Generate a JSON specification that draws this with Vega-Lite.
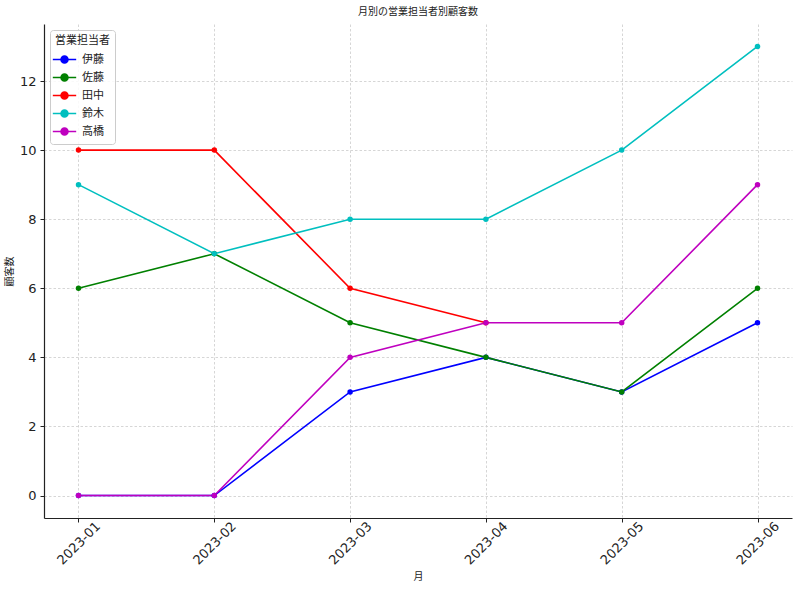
{
  "$schema": "https://vega.github.io/schema/vega-lite/v6.json",
  "autosize": "none",
  "width": 748,
  "height": 494,
  "padding": {"left": 44, "top": 24, "right": 8, "bottom": 78},
  "background": "white",
  "config": {
    "font": "DejaVu Sans, Noto Sans CJK JP",
    "view": {"stroke": null}
  },
  "title": {"text": "月別の営業担当者別顧客数", "fontSize": 10, "fontWeight": "normal", "color": "#222", "offset": 7, "font": "Noto Sans CJK JP"},
  "data": {
    "values": [
      {"月": "2023-01", "担当": "伊藤", "顧客数": 0},
      {"月": "2023-02", "担当": "伊藤", "顧客数": 0},
      {"月": "2023-03", "担当": "伊藤", "顧客数": 3},
      {"月": "2023-04", "担当": "伊藤", "顧客数": 4},
      {"月": "2023-05", "担当": "伊藤", "顧客数": 3},
      {"月": "2023-06", "担当": "伊藤", "顧客数": 5},
      {"月": "2023-01", "担当": "佐藤", "顧客数": 6},
      {"月": "2023-02", "担当": "佐藤", "顧客数": 7},
      {"月": "2023-03", "担当": "佐藤", "顧客数": 5},
      {"月": "2023-04", "担当": "佐藤", "顧客数": 4},
      {"月": "2023-05", "担当": "佐藤", "顧客数": 3},
      {"月": "2023-06", "担当": "佐藤", "顧客数": 6},
      {"月": "2023-01", "担当": "田中", "顧客数": 10},
      {"月": "2023-02", "担当": "田中", "顧客数": 10},
      {"月": "2023-03", "担当": "田中", "顧客数": 6},
      {"月": "2023-04", "担当": "田中", "顧客数": 5},
      {"月": "2023-01", "担当": "鈴木", "顧客数": 9},
      {"月": "2023-02", "担当": "鈴木", "顧客数": 7},
      {"月": "2023-03", "担当": "鈴木", "顧客数": 8},
      {"月": "2023-04", "担当": "鈴木", "顧客数": 8},
      {"月": "2023-05", "担当": "鈴木", "顧客数": 10},
      {"月": "2023-06", "担当": "鈴木", "顧客数": 13},
      {"月": "2023-01", "担当": "高橋", "顧客数": 0},
      {"月": "2023-02", "担当": "高橋", "顧客数": 0},
      {"月": "2023-03", "担当": "高橋", "顧客数": 4},
      {"月": "2023-04", "担当": "高橋", "顧客数": 5},
      {"月": "2023-05", "担当": "高橋", "顧客数": 5},
      {"月": "2023-06", "担当": "高橋", "顧客数": 9}
    ]
  },
  "mark": {"type": "line", "strokeWidth": 1.6, "point": {"size": 30, "filled": true}},
  "encoding": {
    "x": {
      "field": "月", "type": "ordinal",
      "scale": {"type": "point", "padding": 0.254},
      "axis": {
        "title": "月", "titleFontSize": 10, "titleFontWeight": "normal", "titleColor": "#222", "titlePadding": 4, "titleFont": "Noto Sans CJK JP",
        "labelAngle": -45, "labelAlign": "center", "labelBaseline": "middle", "labelFontSize": 13, "labelColor": "#222", "labelPadding": 21,
        "grid": true, "gridColor": "#cccccc", "gridDash": [2.5, 2], "gridWidth": 0.8,
        "domainColor": "#222", "domainWidth": 1.2, "tickColor": "#222", "tickSize": 4
      }
    },
    "y": {
      "field": "顧客数", "type": "quantitative",
      "scale": {"domain": [-0.65, 13.65], "nice": false, "zero": false},
      "axis": {
        "values": [0, 2, 4, 6, 8, 10, 12],
        "title": "顧客数", "titleFontSize": 10, "titleFontWeight": "normal", "titleColor": "#222", "titlePadding": 5, "titleFont": "Noto Sans CJK JP",
        "labelFontSize": 13, "labelColor": "#222", "labelPadding": 4,
        "grid": true, "gridColor": "#cccccc", "gridDash": [2.5, 2], "gridWidth": 0.8,
        "domainColor": "#222", "domainWidth": 1.2, "tickColor": "#222", "tickSize": 4
      }
    },
    "color": {
      "field": "担当", "type": "nominal",
      "scale": {"domain": ["伊藤", "佐藤", "田中", "鈴木", "高橋"], "range": ["#0000ff", "#008000", "#ff0000", "#00bfbf", "#bf00bf"]},
      "legend": {
        "title": "営業担当者", "titleFontSize": 11, "titleFontWeight": "normal", "titleColor": "#222", "titleFont": "Noto Sans CJK JP", "titlePadding": 4,
        "labelFontSize": 11, "labelColor": "#222", "labelFont": "Noto Sans CJK JP", "labelOffset": 8,
        "orient": "top-left", "offset": 6, "padding": 5,
        "fillColor": "rgba(255,255,255,0.85)", "strokeColor": "#cccccc", "cornerRadius": 3,
        "rowPadding": 1,
        "symbolType": "M-1.35,0H1.35M-0.4,0A0.4,0.4 0 1,0 0.4,0A0.4,0.4 0 1,0 -0.4,0Z",
        "symbolSize": 300, "symbolStrokeWidth": 1.6
      }
    }
  }
}
